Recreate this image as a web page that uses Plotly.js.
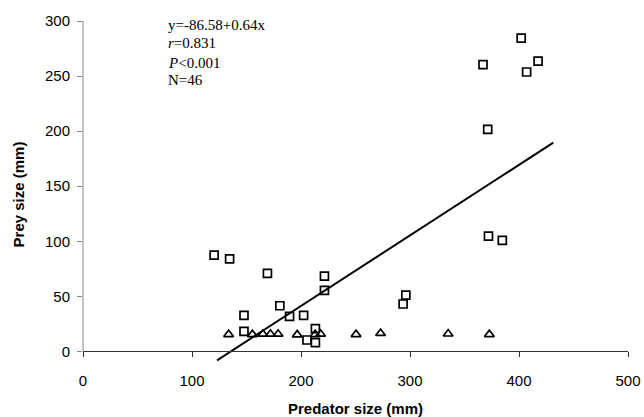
<!DOCTYPE html>
<html>
<head>
<meta charset="utf-8">
<script src="https://cdn.plot.ly/plotly-3.0.1.min.js"></script>
<style>html,body{margin:0;padding:0;background:#fff;}#chart{width:644px;height:417px;}</style>
</head>
<body>
<div id="chart"></div>
<script>
// Squares (predator size, prey size)
const squareX = [120.3, 134.5, 169.2, 221.5, 221.5, 180.6, 147.7, 189.5, 202.4, 147.7, 213.2, 205.5, 213.2, 293.7, 296.2, 367.0, 402.0, 417.5, 407.0, 371.3, 372.0, 384.7];
const squareY = [87.5, 84.1, 70.9, 68.4, 55.5, 41.5, 32.8, 31.9, 32.8, 18.3, 20.7, 10.4, 8.0, 43.1, 51.2, 260.4, 284.4, 263.6, 253.7, 201.7, 104.7, 100.8];
// Triangles
const triX = [133.6, 155.4, 165.0, 172.0, 179.0, 196.5, 213.0, 218.0, 250.5, 273.0, 335.0, 372.8];
const triY = [15.5, 15.5, 15.8, 15.8, 15.8, 15.2, 15.5, 15.8, 15.5, 16.5, 16.0, 15.5];
// Regression line endpoints
const fitX = [123, 431.5];
const fitY = [-8, 189.6];

const xTicks = [0, 100, 200, 300, 400, 500];
const yTicks = [0, 50, 100, 150, 200, 250, 300];
const statLines = ['y=-86.58+0.64x', '<i>r</i>=0.831', '<i>P</i><0.001', 'N=46'];

const yMin = -15, yMax = 300;
const zeroPos = (0 - yMin) / (yMax - yMin);

const traces = [
  {x: fitX, y: fitY, mode: 'lines', line: {color: '#000', width: 2}, hoverinfo: 'skip'},
  {x: triX, y: triY, mode: 'markers', marker: {symbol: 'triangle-up-open', size: 8.5, color: '#000', line: {width: 1.7, color: '#000'}}},
  {x: squareX, y: squareY, mode: 'markers', marker: {symbol: 'square-open', size: 8, color: '#000', line: {width: 1.7, color: '#000'}}}
];

const axFont = {family: 'Liberation Sans, Arial, sans-serif', size: 15, color: '#000'};
const titleFont = {family: 'Liberation Sans, Arial, sans-serif', size: 15, color: '#000', weight: 'bold'};

const statY = [0.9885, 0.9357, 0.8798, 0.830];
const annotations = statLines.map((t, i) => ({
  text: t, xref: 'paper', yref: 'paper', x: 0.1517, y: statY[i],
  xanchor: 'left', yanchor: 'middle', showarrow: false,
  font: {family: 'Liberation Serif, Times New Roman, serif', size: 15, color: '#000'}
}));

const layout = {
  width: 644, height: 417,
  margin: {l: 83, r: 16, t: 21, b: 49},
  paper_bgcolor: '#fff', plot_bgcolor: '#fff',
  showlegend: false,
  xaxis: {
    range: [0, 500], tickvals: xTicks, ticktext: xTicks.map(String),
    anchor: 'free', position: zeroPos,
    showline: true, linecolor: '#333', linewidth: 1,
    ticks: 'outside', ticklen: 5, tickcolor: '#333', tickwidth: 1,
    ticklabelstandoff: 11,
    showgrid: false, zeroline: false, tickfont: axFont,
    title: {text: 'Predator size (mm)', font: titleFont, standoff: 19}
  },
  xaxis2: {
    overlaying: 'x', matches: 'x', range: [0, 500], tickvals: xTicks,
    anchor: 'free', position: zeroPos, side: 'bottom',
    showline: false, ticks: 'inside', ticklen: 5, tickcolor: '#333', tickwidth: 1,
    showticklabels: false, showgrid: false, zeroline: false
  },
  yaxis: {
    range: [yMin, yMax], tickvals: yTicks, ticktext: yTicks.map(String),
    showline: false, ticks: 'outside', ticklen: 5, tickcolor: '#888', tickwidth: 1,
    ticklabelstandoff: 4,
    showgrid: false, zeroline: false, tickfont: axFont,
    title: {text: 'Prey size (mm)', font: titleFont, standoff: 16}
  },
  shapes: [
    {type: 'line', xref: 'paper', yref: 'y', x0: 0, x1: 0, y0: 0, y1: 300, line: {color: '#888', width: 1}}
  ],
  annotations: annotations
};

Plotly.newPlot('chart', traces, layout, {displayModeBar: false, staticPlot: true});
</script>
</body>
</html>
